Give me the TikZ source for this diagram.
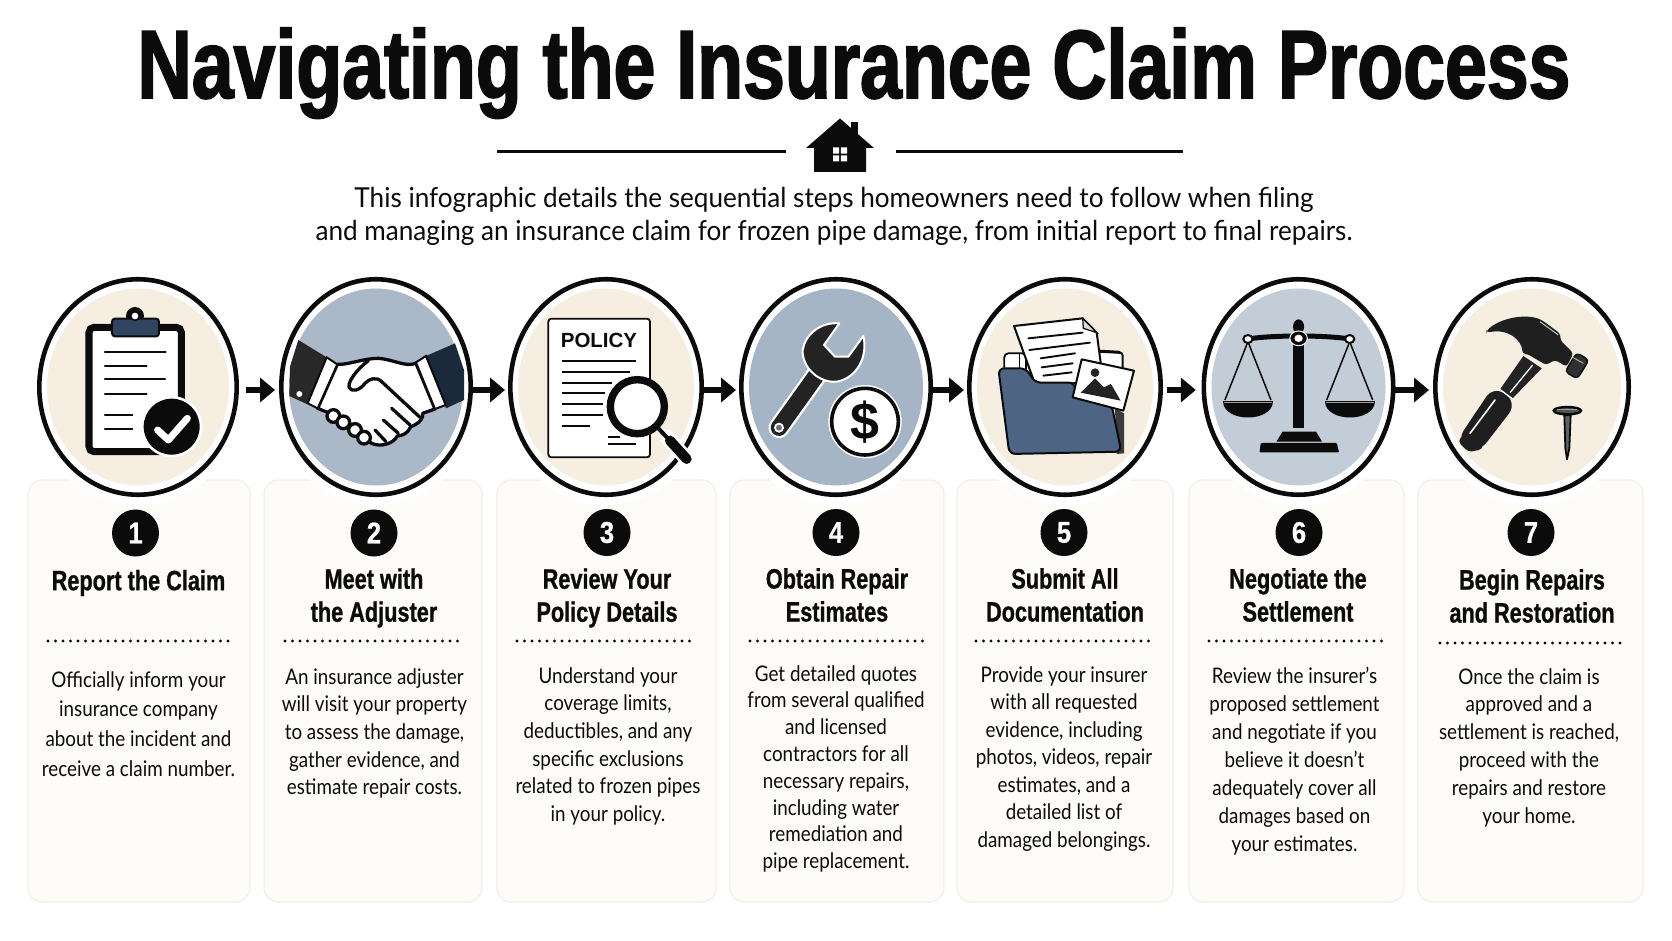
\documentclass[tikz,border=0pt]{standalone}
\usepackage{fontspec}
\usetikzlibrary{shapes.geometric,arrows.meta}
\setmainfont{Lato}
\newfontfamily\titlefont[FakeStretch=0.775,FakeBold=1.8]{Liberation Sans Bold}
\newfontfamily\headfont[FakeStretch=0.775,FakeBold=0.9]{Liberation Sans Bold}
\newfontfamily\numfont[FakeStretch=0.85,FakeBold=0.8]{Liberation Sans Bold}
\newfontfamily\boldsans{Liberation Sans Bold}
\newfontfamily\bodyfont[FakeStretch=0.875]{Lato}
\newfontfamily\introfont[FakeStretch=0.95]{Lato}
\definecolor{beigefill}{HTML}{F5EEE1}
\definecolor{bluea}{HTML}{ABB8C7}
\definecolor{blueb}{HTML}{A6B5C6}
\definecolor{bluec}{HTML}{C3CDD7}
\definecolor{cardfill}{HTML}{FEFCF9}
\definecolor{cardline}{HTML}{F3EFE9}
\definecolor{navy}{HTML}{2F4560}
\definecolor{folderblue}{HTML}{4D6485}
\definecolor{ink}{HTML}{0B0B0B}
\tikzset{
  cardbox/.style={draw=cardline,line width=1.2pt,fill=cardfill,rounded corners=14pt},
  halo/.style={ellipse,fill=white,inner sep=0pt,outer sep=0pt},
  ring/.style={ellipse,draw=ink,line width=4.6pt,fill=white,inner sep=0pt,outer sep=0pt,minimum height=215.5pt},
  disc/.style={ellipse,inner sep=0pt,outer sep=0pt,minimum height=197pt},
  flow/.style={draw=ink,line width=6pt,-{Triangle[length=15pt,width=24pt]}},
  numdot/.style={circle,fill=ink,text=white,inner sep=0pt,minimum size=47pt,font=\numfont\fontsize{30}{30}\selectfont},
  headtxt/.style={align=center,inner sep=0pt,text=ink,font=\headfont\fontsize{28}{33}\selectfont},
  bodytxt/.style={align=center,inner sep=0pt,text=ink,anchor=north},
  dots/.style={draw=ink,line width=3.1pt,line cap=round,dash pattern=on 0pt off 7.5pt},
  zoomA/.style={x=0.33333pt,y=-0.33333pt,shift={(0pt,-260pt)}},
  zoomB/.style={x=0.33333pt,y=-0.33333pt,shift={(480pt,-260pt)}},
  zoomC/.style={x=0.46046pt,y=-0.33333pt,shift={(950pt,-260pt)}},
  zoomAt/.style={x=0.33333pt,y=-0.33333pt,shift={(#1)}},
  ln/.style={draw=ink,line width=2.1pt,line cap=round},
  hand/.style={draw=ink,line width=3.3pt,line cap=round,line join=round},
}
\newcommand{\stepcard}[9]{% index, x0, x1, ring x, ring rx, disc colour, number x, number y(ref), dotted span
  \draw[cardbox] (#2,480) rectangle (#3,902);
  \node[halo,minimum width=2*#5+20pt,minimum height=236pt] (h#1) at (#4,387) {};
  \node[ring,minimum width=2*#5-4.6pt] (c#1) at (#4,387) {};
  \node[disc,fill=#6,minimum width=2*#5-20pt] (d#1) at (#4,387) {};
  \node[numdot] (n#1) at (#7,#8) {#1};
  #9
}
\newcommand{\bodyblock}[5]{% name, x, centre y of first line, leading, text
  \node[bodytxt,font=\bodyfont\fontsize{21.5}{#4}\selectfont] (#1) at (#2,#3-8) {\rule{0pt}{15pt}#5};
}
\begin{document}
\begin{tikzpicture}[x=1pt,y=-1pt]
\useasboundingbox[fill=white] (0,0) rectangle (1672,941);

% title
\node[inner sep=0pt,anchor=base,text=ink,font=\titlefont\fontsize{97}{97}\selectfont] (title) at (854,98) {Navigating the Insurance Claim Process};
\draw[draw=ink,line width=3.6pt] (497,151.5) -- (786,151.5);
\draw[draw=ink,line width=3.6pt] (896,151.5) -- (1183,151.5);
% house
\fill[ink] (851,122) rectangle (858,140);
\fill[ink] (840,118.5) -- (874,148) -- (866,148) -- (866,172) -- (814,172) -- (814,148) -- (806,148) -- cycle;
\fill[white] (833,147.5) rectangle (839.2,153.7) (840.8,147.5) rectangle (847,153.7) (833,155.3) rectangle (839.2,161.5) (840.8,155.3) rectangle (847,161.5);
% intro
\node[inner sep=0pt,align=center,anchor=north,text=ink,font=\introfont\fontsize{27.5}{33}\selectfont] (intro) at (834,185.5) {\rule{0pt}{22pt}This infographic details the sequential steps homeowners need to follow when filing\\and managing an insurance claim for frozen pipe damage, from initial report to final repairs.};

% cards and circles
\stepcard{1}{28}{250}{138}{101}{beigefill}{135.5}{533}{\draw[dots] (48,641) -- (230,641);}
\stepcard{2}{264}{482}{376}{97}{bluea}{374}{533}{\draw[dots] (285,641) -- (465,641);}
\stepcard{3}{497}{716}{606}{98}{beigefill}{607}{532.5}{\draw[dots] (517,641) -- (697,641);}
\stepcard{4}{730}{944}{836}{97}{blueb}{836}{532.5}{\draw[dots] (750,641) -- (926,641);}
\stepcard{5}{957}{1173}{1065}{98}{beigefill}{1064}{532.5}{\draw[dots] (976,641) -- (1156,641);}
\stepcard{6}{1189}{1404}{1298.5}{97}{bluec}{1299}{532.5}{\draw[dots] (1209,641) -- (1387,641);}
\stepcard{7}{1418}{1643}{1532}{99}{beigefill}{1531}{532.5}{\draw[dots] (1440,643) -- (1622,643);}

% arrows between the circles
\foreach \a/\b/\sa/\sb in {1/2/9/-6.3,2/3/0/-5.3,3/4/0/-5.3,4/5/0/-5.3,5/6/6/-8,6/7/0/-6.3}{
  \draw[flow] ([yshift=-3pt,xshift=\sa pt]c\a.east) -- ([yshift=-3pt,xshift=\sb pt]c\b.west);
}

% headings
\node[headtxt] (head1) at (138.5,583) {Report the Claim};
\node[headtxt] (head2) at (374,598) {Meet with\\the Adjuster};
\node[headtxt] (head3) at (607,598) {Review Your\\Policy Details};
\node[headtxt] (head4) at (837,595) {Obtain Repair\\Estimates};
\node[headtxt] (head5) at (1065,595) {Submit All\\Documentation};
\node[headtxt] (head6) at (1298,595) {Negotiate the\\Settlement};
\node[headtxt] (head7) at (1532,596) {Begin Repairs\\and Restoration};

% body text
\bodyblock{t1}{138.5}{679}{29.9}{Officially inform your\\insurance company\\about the incident and\\receive a claim number.}
\bodyblock{t2}{374.5}{676}{27.7}{An insurance adjuster\\will visit your property\\to assess the damage,\\gather evidence, and\\estimate repair costs.}
\bodyblock{t3}{608}{675}{27.7}{Understand your\\coverage limits,\\deductibles, and any\\specific exclusions\\related to frozen pipes\\in your policy.}
\bodyblock{t4}{836}{673}{26.8}{Get detailed quotes\\from several qualified\\and licensed\\contractors for all\\necessary repairs,\\including water\\remediation and\\pipe replacement.}
\bodyblock{t5}{1064}{674}{27.5}{Provide your insurer\\with all requested\\evidence, including\\photos, videos, repair\\estimates, and a\\detailed list of\\damaged belongings.}
\bodyblock{t6}{1294.5}{675}{28}{Review the insurer’s\\proposed settlement\\and negotiate if you\\believe it doesn’t\\adequately cover all\\damages based on\\your estimates.}
\bodyblock{t7}{1529}{676}{27.9}{Once the claim is\\approved and a\\settlement is reached,\\proceed with the\\repairs and restore\\your home.}

% ---------- icon 1: clipboard
\begin{scope}[zoomA]
  \draw[draw=ink,fill=white,line width=7pt,rounded corners=5pt] (267,202) rectangle (544,575);
  \fill[ink] (405,168) circle [radius=27];
  \draw[draw=ink,fill=navy,line width=2pt,rounded corners=3pt] (336,176) rectangle (477,229);
  \fill[white] (405,168) circle [radius=12];
  \draw[draw=ink,line width=1.6pt] (405,168) circle [radius=13];
  \foreach \yy/\xx in {275/497,317/440,356/495,401/440,465/397,507/397}{\draw[ln] (315,\yy) -- (\xx,\yy);}
  \fill[white] (515,500) circle [radius=92];
  \fill[ink] (515,500) circle [radius=84];
  \draw[draw=white,line width=7pt,line cap=round,line join=round] (473,510) -- (505,540) -- (562,475);
\end{scope}

% ---------- icon 2: handshake
\begin{scope}[zoomAt={280pt,-330pt}]
  \fill[ink!88] (55,30) -- (140,82) -- (80,222) -- (28,198) -- (30,110) -- cycle;
  \fill[white] (58,192) circle [radius=9];
  \fill[navy!60!black] (525,40) -- (438,78) -- (498,235) -- (552,210) -- (552,120) -- cycle;
  \draw[hand,fill=white] (172,103) .. controls (205,105) and (250,85) .. (295,85) .. controls (340,88) and (375,112) .. (408,100)
    -- (465,237) -- (428,250) .. controls (430,275) and (405,285) .. (392,290) .. controls (385,310) and (365,318) .. (352,318) .. controls (340,342) and (300,352) .. (275,340)
    -- (150,250) -- (113,235) -- cycle;
  \foreach \xx/\yy in {160/258,190/277,225/300,252/323}{
    \draw[hand,fill=white] (\xx,\yy) circle [radius=19];
  }
  \draw[hand] (265,92) .. controls (235,115) and (205,150) .. (207,170) .. controls (215,190) and (240,180) .. (255,160) .. controls (268,145) and (290,140) .. (305,155) -- (420,262);
  \draw[hand] (335,235) -- (390,285);
  \draw[hand] (310,270) -- (355,310);
  \draw[hand] (285,300) -- (318,335);
  \draw[draw=ink,fill=white,line width=2pt] (140,82) -- (172,103) -- (113,235) -- (83,220) -- cycle;
  \draw[draw=ink,fill=white,line width=2pt] (438,78) -- (408,97) -- (465,237) -- (497,225) -- cycle;
\end{scope}

% ---------- icon 3: policy
\begin{scope}[zoomB]
  \draw[draw=ink,fill=white,line width=1.8pt,rounded corners=3pt] (205,176) rectangle (510,592);
  \node[inner sep=0pt,text=ink,font=\boldsans\fontsize{20.5}{20.5}\selectfont] (policy) at (357,240) {POLICY};
  \foreach \yy/\xx in {303/468,335/450,368/395,400/375,433/370,465/370,497/330}{\draw[ln,line cap=butt] (245,\yy) -- (\xx,\yy);}
  \draw[ln,line cap=butt] (385,530) -- (420,530);
  \draw[ln,line cap=butt] (385,552) -- (468,552);
  \draw[draw=white,line width=15pt,line cap=round] (560,530) -- (620,597);
  \draw[draw=ink,line width=4pt] (535,505) -- (570,542);
  \draw[draw=ink,line width=10pt,line cap=round] (570,542) -- (620,597);
  \draw[draw=ink,fill=white,line width=7.4pt] (472,440) circle [radius=81];
% ---------- icon 4: wrench and coin
  \draw[draw=white,line width=21pt,line cap=round] (1010,345) -- (897,503);
  \draw[draw=ink!90,line width=16.5pt,line cap=round] (1010,345) -- (897,503);
  \fill[white] (897,503) circle [radius=15];
  \fill[black!55!white] (897,503) circle [radius=9];
  \draw[draw=white,fill=ink!90,line width=2pt,line join=round] (1078,190) .. controls (1020,185) and (975,225) .. (968,270) .. controls (965,320) and (1015,370) .. (1070,365) .. controls (1130,355) and (1165,290) .. (1150,228) -- (1105,290) -- (1065,290) -- (1032,255) -- cycle;
  \fill[white] (1155,485) circle [radius=110];
  \draw[draw=ink,fill=white,line width=3.6pt] (1155,485) circle [radius=100];
  \node[inner sep=0pt,text=ink,font=\boldsans\fontsize{52}{52}\selectfont] (dollar) at (1155,485) {\$};
\end{scope}

% ---------- icon 5: folder
\begin{scope}[zoomAt={1000pt,-310pt}]
  \draw[draw=ink,fill=white,line width=1.8pt,rounded corners=4pt] (13,178) -- (13,130) -- (78,130) -- (78,178);
  \draw[draw=ink,line width=1.4pt] (58,130) -- (58,175);
  \draw[draw=ink,fill=white,line width=2pt,rounded corners=3pt] (232,118) -- (368,128) -- (368,285) -- (232,285) -- cycle;
  \draw[draw=ink,line width=3pt] (232,120) -- (360,127);
  \draw[draw=ink,fill=white,line width=2pt,line join=round] (42,48) -- (248,25) -- (290,68) -- (310,218) -- (105,222) -- cycle;
  \draw[draw=ink,fill=white!85!ink,line width=1.2pt] (248,25) -- (250,55) -- (290,68) -- cycle;
  \foreach \xa/\ya/\xb/\yb in {85/85/248/68,88/120/270/98,122/145/225/130,125/172/218/160,130/197/215/187}{\draw[ln,line width=1.9pt] (\xa,\ya) -- (\xb,\yb);}
  \fill[ink!80] (345,295) -- (372,310) -- (372,430) -- (350,432) -- cycle;
  \draw[draw=ink,fill=folderblue,line width=2pt,line join=round,rounded corners=6pt] (-5,175) -- (78,175) -- (105,218) -- (225,218) -- (225,265) -- (335,285) -- (364,425) -- (28,432) -- cycle;
  \draw[draw=ink,fill=white,line width=2pt,line join=round] (245,148) -- (402,182) -- (370,302) -- (218,262) -- cycle;
  \fill[ink!90] (285,188) circle [radius=13];
  \fill[ink!90] (242,248) -- (285,205) -- (312,232) -- (333,222) -- (362,272) -- cycle;
\end{scope}

% ---------- icon 6: scales
\begin{scope}[zoomC]
  \fill[ink] (745,225) rectangle (769,505);
  \fill[ink] (757,200) circle [x radius=12,y radius=22];
  \draw[draw=ink,line width=5pt] (647,237) .. controls (700,225) and (815,225) .. (868,237);
  \draw[draw=white,fill=ink,line width=1pt] (757,235) circle [x radius=19,y radius=22];
  \fill[white] (757,235) circle [x radius=9,y radius=11];
  \foreach \xx in {647,868}{
    \draw[draw=ink,line width=1.5pt] (\xx,245) -- (\xx-50,420);
    \draw[draw=ink,line width=1.5pt] (\xx,245) -- (\xx+50,420);
    \fill[ink] (\xx-54,422) .. controls (\xx-54,490) and (\xx+54,490) .. (\xx+54,422) -- cycle;
    \draw[draw=white!60!ink,line width=1pt] (\xx-52,429) -- (\xx+52,429);
    \draw[draw=ink,fill=white,line width=2pt] (\xx,237) circle [x radius=10,y radius=12];
  }
  \fill[ink] (709,545) -- (722,515) -- (795,515) -- (808,545) -- cycle;
  \fill[ink,rounded corners=1pt] (672,577) -- (675,549) -- (840,549) -- (845,577) -- cycle;
\end{scope}

% ---------- icon 7: hammer and nail
\begin{scope}[zoomAt={1440pt,-300pt}]
  \fill[ink!90] (250,168) -- (305,205) -- (215,298) -- (180,268) -- cycle;
  \draw[draw=white,line width=1.3pt] (278,195) -- (210,278);
  \draw[draw=ink!92,fill=ink!92,line width=10pt,line join=round,rounded corners=8pt] (165,278) -- (210,312) -- (115,435) -- (90,440) -- (70,420) -- cycle;
  \draw[draw=white,line width=1.6pt,line cap=round] (165,300) -- (90,400);
  \draw[draw=white,line width=1.4pt] (175,265) -- (222,300);
  \fill[ink!92,line join=round,rounded corners=3pt] (140,92) .. controls (180,55) and (255,40) .. (305,60) -- (360,100) -- (362,122) -- (400,160) -- (380,200) -- (345,180) -- (318,195) -- (262,162) -- (248,162) .. controls (245,120) and (205,85) .. (140,98) -- cycle;
  \draw[draw=white!75!ink,line width=1pt] (300,65) -- (355,105);
  \draw[draw=ink,fill=ink!85,line width=1.4pt,rounded corners=4pt] (410,158) -- (447,180) -- (412,237) -- (375,215) -- cycle;
  \draw[draw=white!70!ink,line width=0.9pt] (398,172) -- (430,190);
  \draw[draw=ink,fill=ink!70,line width=2.4pt] (382,332) circle [x radius=41,y radius=11];
  \draw[draw=white!60!ink,line width=0.8pt] (352,328) -- (412,328);
  \draw[draw=ink,fill=ink!65,line width=1.8pt,line join=round] (373,346) -- (392,346) -- (388,445) -- (381,478) -- (376,445) -- cycle;
\end{scope}
\end{tikzpicture}
\end{document}
